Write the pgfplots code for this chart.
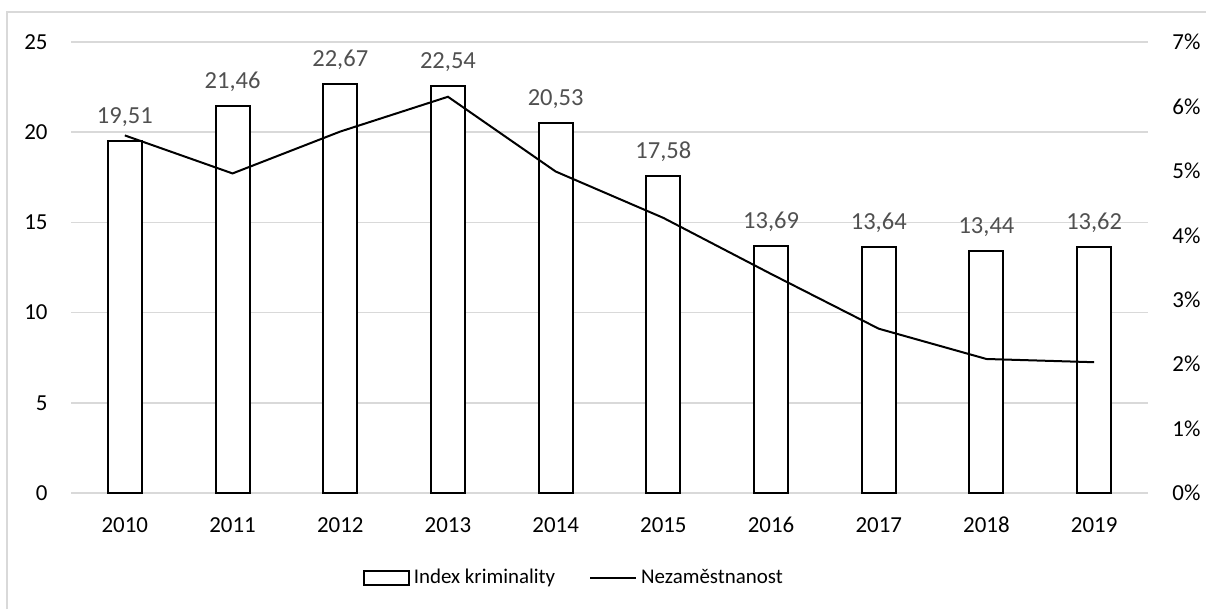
\documentclass[border=0pt]{standalone}
\usepackage{pgfplots}
\pgfplotsset{compat=1.18}
\usepackage{fontspec}
\setmainfont{Carlito}
\definecolor{gridgray}{HTML}{D9D9D9}
\definecolor{labelgray}{HTML}{505050}

\pgfplotsset{
  base/.style={
    scale only axis,
    width=538.5bp, height=225.5bp,
    at={(35.5bp,58bp)}, anchor=south west,
    xmin=-0.5, xmax=9.5,
    axis line style={draw=none},
    major tick length=0pt,
    /pgf/number format/assume math mode=true,
    tick label style={font=\fontsize{11.5}{14}\selectfont, text=black},
  },
  barlegend/.style={legend image code/.code={\draw[#1] (0bp,-3.5bp) rectangle (22.5bp,3.5bp);}},
  linelegend/.style={legend image code/.code={\draw[#1] (0bp,0bp) -- (23bp,0bp);}},
}

\begin{document}
\fontsize{11.5}{14}\selectfont
\begin{tikzpicture}[x=1bp,y=1bp]
\useasboundingbox (0,0) rectangle (603,304.5);
% outer chart frame (only top and left edge visible)
\draw[gridgray, line width=0.6bp] (3.5,0) -- (3.5,298.5) -- (603,298.5);

% bars, left axis
\begin{axis}[base,
  ymin=0, ymax=25, ytick={0,5,...,25},
  ymajorgrids, grid style={gridgray, line width=0.7bp},
  xtick={0,...,9},
  xticklabels={2010,2011,2012,2013,2014,2015,2016,2017,2018,2019},
  xticklabel style={inner sep=0pt, anchor=base, yshift=-19.9bp},
  yticklabel style={inner sep=0pt, anchor=east, xshift=-11.5bp},
  nodes near coords,
  point meta=explicit symbolic,
  every node near coord/.append style={anchor=base, inner sep=0pt, yshift=8.7bp,
    text=labelgray, font=\fontsize{12.3}{14}\selectfont},
]
\addplot[ybar, bar width=17bp, draw=black, fill=white, line width=1bp]
  coordinates {
    (0,19.51) [19,51]
    (1,21.46) [21,46]
    (2,22.67) [22,67]
    (3,22.54) [22,54]
    (4,20.53) [20,53]
    (5,17.58) [17,58]
    (6,13.69) [13,69]
    (7,13.64) [13,64]
    (8,13.44) [13,44]
    (9,13.62) [13,62]
  };
\end{axis}

% line, right axis
\begin{axis}[base,
  ymin=0, ymax=7, ytick={0,1,...,7},
  axis y line*=right,
  xtick=\empty,
  yticklabel={\pgfmathprintnumber{\tick}\%},
  yticklabel style={inner sep=0pt, anchor=west, xshift=12bp},
  legend style={at={(axis description cs:0.468,-0.1885)}, anchor=center,
    draw=none, fill=none, legend columns=2,
    font=\fontsize{10.5}{14}\selectfont,
    /tikz/every even column/.append style={column sep=15bp}},
  legend cell align=left,
]
\addlegendimage{draw=black, fill=white, line width=0.8bp, barlegend}
\addlegendentry{Index kriminality}
\addplot[black, line width=1bp, mark=none, linelegend]
  coordinates {
    (0,5.55) (1,4.96) (2,5.61) (3,6.15) (4,4.99)
    (5,4.27) (6,3.40) (7,2.55) (8,2.08) (9,2.03)
  };
\addlegendentry{Nezaměstnanost}
\end{axis}
\end{tikzpicture}
\end{document}
